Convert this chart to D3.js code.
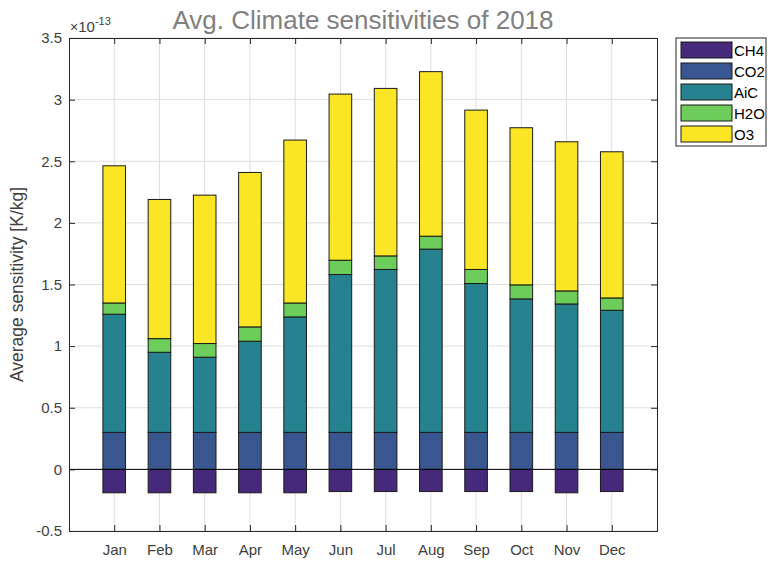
<!DOCTYPE html>
<html>
<head>
<meta charset="utf-8">
<script src="https://cdn.jsdelivr.net/npm/d3@7"></script>
<style>
  html, body { margin: 0; padding: 0; background: #fff; }
  svg { display: block; font-family: "Liberation Sans", Arial, Helvetica, sans-serif; }
</style>
</head>
<body>
<svg id="chart" width="768" height="562"></svg>
<script>
// Monthly average climate sensitivities, in units of 1e-13 K/kg
const months = ["Jan", "Feb", "Mar", "Apr", "May", "Jun", "Jul", "Aug", "Sep", "Oct", "Nov", "Dec"];
const species = ["CH4", "CO2", "AiC", "H2O", "O3"];
const ch4 = [-0.19, -0.19, -0.19, -0.19, -0.19, -0.18, -0.18, -0.18, -0.18, -0.18, -0.19, -0.18];
const co2 = [0.30, 0.30, 0.30, 0.30, 0.30, 0.30, 0.30, 0.30, 0.30, 0.30, 0.30, 0.30];
const aic = [0.959, 0.650, 0.610, 0.740, 0.937, 1.281, 1.322, 1.487, 1.208, 1.083, 1.042, 0.991];
const h2o = [0.091, 0.111, 0.111, 0.116, 0.113, 0.116, 0.110, 0.105, 0.114, 0.114, 0.106, 0.100];
const o3 = [1.113, 1.129, 1.204, 1.253, 1.322, 1.348, 1.359, 1.335, 1.293, 1.275, 1.210, 1.186];
const yTicks = [-0.5, 0, 0.5, 1, 1.5, 2, 2.5, 3, 3.5];
const yTickLabels = ["-0.5", "0", "0.5", "1", "1.5", "2", "2.5", "3", "3.5"];
const exponent = -13;

const colors = ["#46297a", "#3a5690", "#26828e", "#6ccd5a", "#fbe625"];
const seriesValues = [ch4, co2, aic, h2o, o3];

const svg = d3.select("#chart");
const plot = { left: 69, right: 657, top: 38, bottom: 531 };
const axisColor = "#262626";
const labelColor = "#404040";

const x = d3.scaleLinear().domain([0, 13]).range([plot.left, plot.right]);
const y = d3.scaleLinear().domain([-0.5, 3.5]).range([plot.bottom, plot.top]);
const barWidth = 0.5;

// Grid
const grid = svg.append("g");
grid.selectAll("line.gy").data(yTicks).join("line")
  .attr("x1", plot.left).attr("x2", plot.right)
  .attr("y1", d => y(d)).attr("y2", d => y(d))
  .attr("stroke", "#dedede").attr("stroke-width", 1);
grid.selectAll("line.gx").data(months).join("line")
  .attr("x1", (d, i) => x(i + 1)).attr("x2", (d, i) => x(i + 1))
  .attr("y1", plot.top).attr("y2", plot.bottom)
  .attr("stroke", "#dedede").attr("stroke-width", 1);

// Stacked bars: positive series stack upward from zero, negative ones downward
const rows = months.map((m, i) => {
  const r = { month: m, index: i };
  species.forEach((s, k) => { r[s] = seriesValues[k][i]; });
  return r;
});
const stack = d3.stack().keys(species).offset(d3.stackOffsetDiverging);
const layers = stack(rows);

const bars = svg.append("g");
layers.forEach((layer, k) => {
  bars.append("g")
    .selectAll("rect").data(layer).join("rect")
    .attr("x", d => x(d.data.index + 1 - barWidth / 2))
    .attr("width", d => x(d.data.index + 1 + barWidth / 2) - x(d.data.index + 1 - barWidth / 2))
    .attr("y", d => y(Math.max(d[0], d[1])))
    .attr("height", d => Math.abs(y(d[0]) - y(d[1])))
    .attr("fill", colors[k])
    .attr("stroke", "#1a1a1a")
    .attr("stroke-width", 1);
});

// Baseline at zero
svg.append("line")
  .attr("x1", plot.left).attr("x2", plot.right)
  .attr("y1", y(0)).attr("y2", y(0))
  .attr("stroke", "#000").attr("stroke-width", 1);

// Axes with inward ticks on all four sides
const tickLen = 6;
const yAxisLeft = d3.axisLeft(y).tickValues(yTicks).tickSize(-tickLen).tickPadding(7)
  .tickFormat((d, i) => yTickLabels[i]);
const yAxisRight = d3.axisRight(y).tickValues(yTicks).tickSize(-tickLen).tickFormat("");
const xBottom = d3.axisBottom(x).tickValues(d3.range(1, 13)).tickSize(-tickLen).tickPadding(13)
  .tickFormat(d => months[d - 1]);
const xTop = d3.axisTop(x).tickValues(d3.range(1, 13)).tickSize(-tickLen).tickFormat("");

function styleAxis(g) {
  g.select(".domain").attr("stroke", axisColor).attr("stroke-width", 1);
  g.selectAll(".tick line").attr("stroke", axisColor);
  g.selectAll(".tick text").attr("fill", labelColor).attr("font-size", 15)
    .attr("font-family", "Liberation Sans, Arial, sans-serif");
}
svg.append("g").attr("transform", `translate(${plot.left},0)`).call(yAxisLeft).call(styleAxis);
svg.append("g").attr("transform", `translate(${plot.right},0)`).call(yAxisRight).call(styleAxis);
svg.append("g").attr("transform", `translate(0,${plot.bottom})`).call(xBottom).call(styleAxis);
svg.append("g").attr("transform", `translate(0,${plot.top})`).call(xTop).call(styleAxis);

// Exponent multiplier
const expText = svg.append("text")
  .attr("x", plot.left + 1).attr("y", plot.top - 6)
  .attr("fill", labelColor).attr("font-size", 14);
expText.append("tspan").text("\u00d7");
expText.append("tspan").attr("font-size", 15).text("10");
expText.append("tspan").attr("dy", -7).attr("font-size", 11).text(String(exponent));

// Title
svg.append("text")
  .attr("x", (plot.left + plot.right) / 2).attr("y", 29)
  .attr("text-anchor", "middle")
  .attr("fill", "#808080").attr("font-size", 26)
  .text("Avg. Climate sensitivities of 2018");

// Y label
svg.append("text")
  .attr("transform", `translate(23,${(plot.top + plot.bottom) / 2}) rotate(-90)`)
  .attr("text-anchor", "middle")
  .attr("fill", labelColor).attr("font-size", 17.5)
  .text("Average sensitivity [K/kg]");

// Legend
const legend = svg.append("g").attr("transform", "translate(676,38)");
legend.append("rect").attr("width", 90).attr("height", 108)
  .attr("fill", "#fff").attr("stroke", "#262626").attr("stroke-width", 1);
species.forEach((s, k) => {
  const row = legend.append("g").attr("transform", `translate(0,${2 + k * 21})`);
  row.append("rect").attr("x", 5).attr("y", 2).attr("width", 51).attr("height", 16)
    .attr("fill", colors[k]).attr("stroke", "#1a1a1a").attr("stroke-width", 1);
  row.append("text").attr("x", 58).attr("y", 15.5)
    .attr("fill", "#000").attr("font-size", 15).text(s);
});
</script>
</body>
</html>
